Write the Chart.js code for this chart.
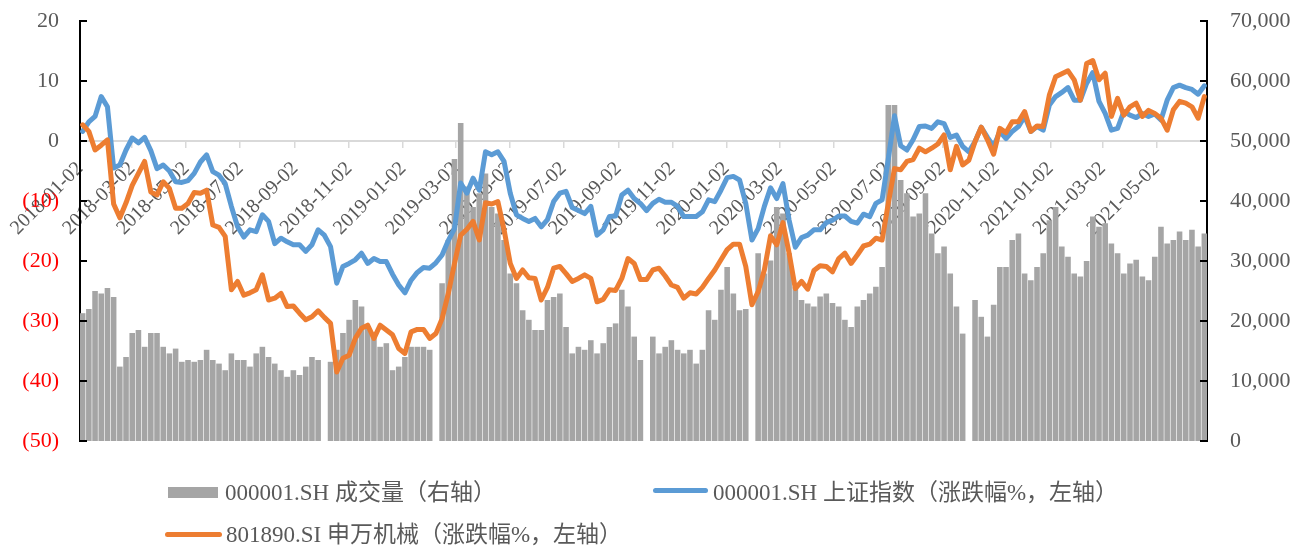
<!DOCTYPE html>
<html>
<head>
<meta charset="utf-8">
<script src="https://cdn.jsdelivr.net/npm/chart.js@4.4.1/dist/chart.umd.min.js"></script>
<style>
	body { margin: 0; background: #fff; }
	#wrap { position: relative; width: 1314px; height: 552px; }
	.key { position: absolute; }
	.txt { position: absolute; font: 23px "Liberation Serif", "Noto Sans CJK SC", serif; color: #595959; white-space: nowrap; line-height: 26px; }
</style>
</head>
<body>
<div id="wrap">
	<canvas id="myChart" width="1314" height="552"></canvas>
	<!-- legend, laid out by hand in two rows -->
	<div class="key" style="left:168px;top:487px;width:50px;height:11px;background:#a5a5a5"></div>
	<div class="txt" style="left:225px;top:480px">000001.SH 成交量（右轴）</div>
	<div class="key" style="left:653px;top:488px;width:55px;height:5px;border-radius:3px;background:#5b9bd5"></div>
	<div class="txt" style="left:713px;top:480px">000001.SH 上证指数（涨跌幅%，左轴）</div>
	<div class="key" style="left:165px;top:532px;width:57px;height:5px;border-radius:3px;background:#ed7d31"></div>
	<div class="txt" style="left:226px;top:522px">801890.SI 申万机械（涨跌幅%，左轴）</div>
</div>
<script>
// weekly readings, one per week ending on Friday, starting 2018-01-05
let firstWeek = "2018-01-05";
let tickDates = [
	"2018-01-02", "2018-03-02", "2018-05-02", "2018-07-02", "2018-09-02", "2018-11-02",
	"2019-01-02", "2019-03-02", "2019-05-02", "2019-07-02", "2019-09-02", "2019-11-02",
	"2020-01-02", "2020-03-02", "2020-05-02", "2020-07-02", "2020-09-02", "2020-11-02",
	"2021-01-02", "2021-03-02", "2021-05-02",
];

// 000001.SH volume (right axis), null = market closed all week
let shVolume = [
	21300, 22000, 25000, 24600, 25500, 24000, 12400, 14000, 18000, 18500,
	15700, 18000, 18000, 15700, 14600, 15400, 13200, 13500, 13200, 13500,
	15200, 13500, 12900, 11800, 14600, 13500, 13500, 12400, 14600, 15700,
	14000, 12900, 11800, 10700, 11800, 11000, 12400, 14000, 13500, null,
	13200, 15200, 18000, 20200, 23500, 22400, 19000, 18000, 15700, 16300,
	11800, 12400, 14000, 15700, 15700, 15700, 15200, null, 26300, 33500,
	47000, 53000, 42400, 39000, 41300, 44600, 39000, 37900, 33500, 27900,
	26300, 21800, 20200, 18500, 18500, 23500, 24000, 24600, 19000, 14600,
	15700, 15200, 16800, 14600, 16300, 19000, 19600, 25200, 22400, 17400,
	13500, null, 17400, 14600, 15700, 16800, 15200, 14600, 15200, 12900,
	15200, 21800, 20200, 25200, 29000, 24600, 21800, 22000, null, 31300,
	27900, 30100, 39000, 37900, 31300, 25700, 23500, 22900, 22400, 24100,
	24600, 23000, 22400, 20200, 19000, 22400, 23500, 24600, 25700, 29000,
	56000, 56000, 43500, 41300, 37400, 37900, 41300, 34600, 31300, 32400,
	27900, 22400, 17900, null, 23500, 20700, 17400, 22700, 29000, 29000,
	33500, 34600, 27900, 26800, 29000, 31300, 36800, 39000, 32400, 30700,
	27900, 27400, 30000, 37400, 35700, 36300, 32900, 31300, 27900, 29600,
	30200, 27400, 26800, 30700, 35700, 32900, 33500, 34900, 33500, 35200,
	32400, 34600,
];

// 000001.SH change since start, %
let shIndex = [
	1.6, 3.2, 4.1, 7.4, 5.7, -4.5, -4.0, -1.5, 0.5, -0.3,
	0.6, -1.6, -4.6, -4.0, -5.0, -6.8, -6.9, -6.6, -5.4, -3.5,
	-2.3, -5.1, -5.7, -7.1, -10.9, -14.3, -16.0, -14.8, -15.1, -12.3,
	-13.4, -17.1, -16.2, -16.8, -17.3, -17.3, -18.4, -17.3, -14.8, -15.7,
	-17.6, -23.7, -20.9, -20.4, -19.8, -18.7, -20.4, -19.6, -20.1, -20.1,
	-22.2, -24.0, -25.3, -23.2, -21.9, -21.1, -21.2, -20.3, -19.0, -16.6,
	-14.6, -7.0, -8.7, -6.2, -8.2, -1.8, -2.3, -1.8, -3.4, -8.7,
	-12.3, -12.9, -13.4, -12.9, -14.3, -13.1, -10.1, -8.7, -8.4, -11.1,
	-11.6, -12.1, -10.9, -15.7, -14.8, -12.6, -12.5, -9.0, -8.2, -9.6,
	-10.4, -11.6, -10.4, -9.7, -10.2, -10.2, -10.9, -12.6, -12.6, -12.6,
	-11.8, -9.8, -10.1, -8.2, -6.1, -5.9, -6.5, -10.4, -16.5, -14.6,
	-10.9, -7.8, -9.6, -7.1, -13.2, -17.7, -16.1, -15.7, -14.8, -14.8,
	-13.6, -13.2, -12.5, -12.5, -13.4, -13.7, -12.2, -12.6, -10.4, -9.8,
	-3.0, 4.2, -0.8, -1.5, 0.2, 2.4, 2.5, 2.1, 3.2, 2.9,
	0.6, 1.0, -0.9, -1.8, -0.1, 2.3, 0.6, -0.9, 1.6, 0.4,
	1.6, 2.4, 4.1, 1.6, 2.4, 1.8, 6.0, 7.4, 8.1, 8.9,
	6.8, 6.8, 9.6, 11.4, 6.6, 4.6, 1.8, 2.1, 4.9, 4.3,
	3.9, 4.6, 4.1, 4.5, 3.5, 6.8, 8.9, 9.3, 8.9, 8.6,
	7.8, 9.2,
];

// 801890.SI machinery change since start, %
let machinery = [
	2.7, 1.6, -1.5, -0.7, 0.2, -10.5, -12.8, -10.3, -7.4, -5.4,
	-3.4, -8.5, -9.0, -6.8, -7.9, -11.2, -11.2, -10.4, -8.6, -8.7,
	-8.2, -14.0, -14.4, -15.9, -24.8, -23.4, -25.7, -25.3, -24.8, -22.3,
	-26.5, -26.2, -25.4, -27.6, -27.5, -28.7, -29.8, -29.3, -28.3, -29.4,
	-30.4, -38.5, -36.2, -35.7, -32.9, -31.2, -30.7, -32.9, -30.7, -31.5,
	-32.3, -34.6, -35.4, -31.8, -31.4, -31.4, -32.9, -32.1, -29.6, -25.4,
	-20.4, -15.7, -14.7, -13.4, -16.5, -10.3, -10.5, -10.1, -14.8, -20.4,
	-22.9, -21.5, -22.8, -22.9, -26.5, -24.4, -21.2, -20.9, -22.1, -23.4,
	-22.9, -22.3, -22.9, -26.8, -26.4, -24.8, -24.9, -22.9, -19.6, -20.4,
	-23.1, -23.1, -21.5, -21.2, -22.5, -24.0, -24.4, -26.2, -25.3, -25.5,
	-24.4, -22.9, -21.5, -19.8, -18.1, -17.2, -17.2, -20.9, -27.3, -25.1,
	-21.5, -15.8, -17.3, -13.6, -18.7, -24.6, -23.4, -24.7, -21.6, -20.8,
	-20.9, -21.8, -19.6, -18.7, -20.4, -19.0, -17.5, -17.2, -16.2, -16.5,
	-10.4, -4.6, -4.8, -3.4, -3.1, -1.2, -1.8, -1.2, -0.5, 1.0,
	-4.8, -0.9, -4.0, -3.2, -0.1, 2.3, 0.2, -2.2, 2.1, 1.4,
	3.2, 3.2, 4.9, 1.6, 2.5, 2.4, 7.7, 10.7, 11.2, 11.7,
	10.2, 6.8, 12.9, 13.4, 10.2, 11.3, 4.1, 7.1, 4.3, 5.7,
	6.3, 4.1, 5.1, 4.6, 3.8, 1.8, 5.2, 6.6, 6.3, 5.7,
	3.8, 7.4,
];

const startDay = Date.UTC(2018, 0, 2);
const serif = "'Liberation Serif', 'Noto Sans CJK SC', serif";

// days since 2018-01-02, used as the x value
function toDay(s) {
	const [y, m, d] = s.split("-").map(Number);
	return (Date.UTC(y, m - 1, d) - startDay) / 86400000;
}

let week0 = toDay(firstWeek);
let weekDays = shVolume.map((v, i) => week0 + 7 * i);
let tickDays = tickDates.map(toDay);

function points(series) {
	return series.map((v, i) => ({ x: weekDays[i], y: v }));
}

// fixed axis widths; drop the label padding chart.js adds above/below the axis
function fixWidth(w) {
	return (s) => {
		s.width = w;
		s.paddingTop = 12;
		s.paddingBottom = 12;
	};
}

// small inward tick marks on both value axes
const innerTicks = {
	id: "innerTicks",
	afterDraw(chart) {
		const { ctx, chartArea } = chart;
		ctx.save();
		ctx.strokeStyle = "#000";
		ctx.lineWidth = 2;
		for (const id of ["y", "y1"]) {
			const s = chart.scales[id];
			const x0 = id == "y" ? chartArea.left : chartArea.right;
			const dir = id == "y" ? 1 : -1;
			s.ticks.forEach((t) => {
				const py = Math.round(s.getPixelForValue(t.value));
				ctx.beginPath();
				ctx.moveTo(x0, py);
				ctx.lineTo(x0 + dir * 7, py);
				ctx.stroke();
			});
		}
		ctx.restore();
	},
};

var ctx = document.getElementById("myChart");
var myChart = new Chart(ctx, {
	type: "bar",
	data: {
		datasets: [
			{
				type: "line",
				label: "801890.SI 申万机械（涨跌幅%，左轴）",
				data: points(machinery),
				yAxisID: "y",
				borderColor: "#ed7d31",
				borderWidth: 5,
				borderJoinStyle: "round",
				borderCapStyle: "round",
				pointRadius: 0,
				order: 0,
			},
			{
				type: "line",
				label: "000001.SH 上证指数（涨跌幅%，左轴）",
				data: points(shIndex),
				yAxisID: "y",
				borderColor: "#5b9bd5",
				borderWidth: 5,
				borderJoinStyle: "round",
				borderCapStyle: "round",
				pointRadius: 0,
				order: 1,
			},
			{
				type: "bar",
				label: "000001.SH 成交量（右轴）",
				data: points(shVolume),
				yAxisID: "y1",
				backgroundColor: "#a5a5a5",
				barPercentage: 1,
				categoryPercentage: 0.9,
				order: 2,
			},
		],
	},
	options: {
		responsive: false,
		animation: false,
		layout: { padding: { top: 21, bottom: 111, left: 0, right: 0 } },
		plugins: {
			legend: { display: false },
			tooltip: { enabled: false },
		},
		scales: {
			x: {
				type: "linear",
				min: 0,
				max: 1273,
				offset: false,
				position: { y: 0 },
				afterBuildTicks: (s) => {
					s.ticks = tickDays.map((d) => ({ value: d }));
				},
				ticks: {
					autoSkip: false,
					minRotation: 45,
					maxRotation: 45,
					padding: 10,
					color: "#595959",
					font: { family: serif, size: 20 },
					callback: (v) => tickDates[tickDays.indexOf(v)],
				},
				grid: { drawOnChartArea: false, offset: false, color: "#d9d9d9", lineWidth: 1.5, tickLength: 6 },
				border: { color: "#d9d9d9", width: 2 },
			},
			y: {
				position: "left",
				min: -50,
				max: 20,
				ticks: {
					stepSize: 10,
					padding: 21,
					color: (c) => (c.tick.value < 0 ? "#ff0000" : "#595959"),
					font: { family: serif, size: 22 },
					callback: (v) => (v < 0 ? "(" + -v + ")" : v),
				},
				grid: { display: false, drawTicks: false },
				border: { color: "#000", width: 2 },
				afterFit: fixWidth(80),
			},
			y1: {
				position: "right",
				min: 0,
				max: 70000,
				ticks: {
					stepSize: 10000,
					padding: 23,
					color: "#595959",
					font: { family: serif, size: 22 },
					callback: (v) => v.toLocaleString("en-US"),
				},
				grid: { display: false, drawTicks: false },
				border: { color: "#000", width: 2 },
				afterFit: fixWidth(107),
			},
		},
	},
	plugins: [innerTicks],
});
</script>
</body>
</html>
